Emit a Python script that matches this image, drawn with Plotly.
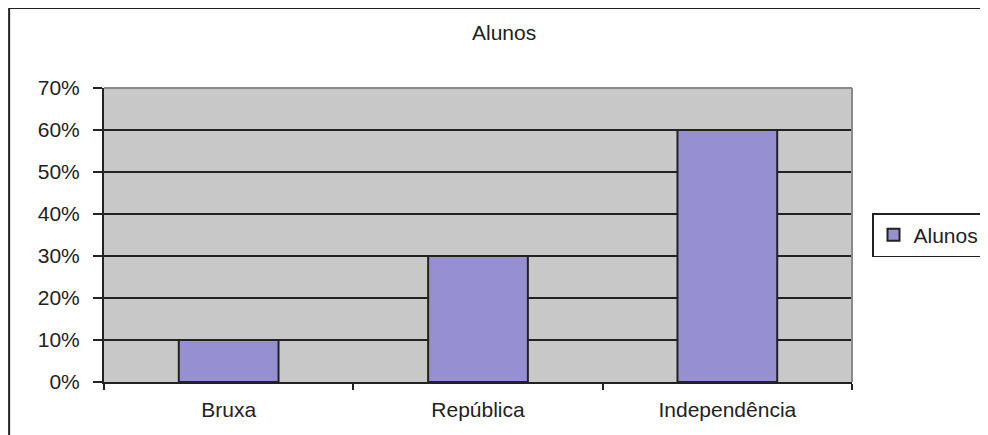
import plotly.graph_objects as go

categories = ["Bruxa", "República", "Independência"]
values = [0.10, 0.30, 0.60]
series_name = "Alunos"
chart_title = "Alunos"
y_ticks = [0, 0.1, 0.2, 0.3, 0.4, 0.5, 0.6, 0.7]
y_labels = ["0%", "10%", "20%", "30%", "40%", "50%", "60%", "70%"]

W, H = 988, 435
OFF = 8  # page body margin
L, R, T, B = 104 - OFF, 853 - OFF, 88 - OFF, 382 - OFF
pw, ph = R - L, B - T

fig = go.Figure()
fig.add_trace(go.Bar(
    x=categories, y=values, name=series_name,
    marker=dict(color="#968fd0", line=dict(color="#222222", width=2)),
    showlegend=True,
))

font = "Liberation Sans, Arial, sans-serif"
FS = 21

fig.update_layout(
    width=W, height=H,
    margin=dict(l=L, r=W - R, t=T, b=H - B),
    paper_bgcolor="white",
    plot_bgcolor="#c8c8c8",
    bargap=0.6,
    font=dict(family=font, size=FS, color="#222222"),
    showlegend=True,
    legend=dict(
        x=(872 - OFF - L) / pw, xanchor="left",
        y=(B - (235 - OFF)) / ph, yanchor="middle",
        bgcolor="white", bordercolor="#222222", borderwidth=1.5,
        font=dict(size=FS, color="#222222"),
        itemwidth=30,
        tracegroupgap=0,
    ),
    xaxis=dict(
        type="category",
        tickson="boundaries",
        ticks="outside", ticklen=6, tickcolor="#222222", tickwidth=2,
        showline=True, linecolor="#222222", linewidth=2,
        showgrid=False,
        ticklabelstandoff=8,
        tickfont=dict(size=FS, color="#222222"),
    ),
    yaxis=dict(
        range=[0, 0.7],
        tickvals=y_ticks, ticktext=y_labels,
        ticks="outside", ticklen=9, tickcolor="#222222", tickwidth=2,
        showline=True, linecolor="#222222", linewidth=2,
        showgrid=True, gridcolor="#222222", gridwidth=2,
        zeroline=False,
        ticklabelstandoff=9,
        tickfont=dict(size=FS, color="#222222"),
    ),
    annotations=[dict(
        text=chart_title, xref="paper", yref="paper",
        x=(505 - OFF - L) / pw, y=(B - (33 - OFF)) / ph,
        xanchor="center", yanchor="middle", showarrow=False,
        font=dict(size=FS, color="#222222"),
    )],
    shapes=[
        dict(type="line", xref="paper", yref="paper", x0=0, x1=1, y0=1, y1=1,
             line=dict(color="#8a8a8a", width=2), layer="above"),
        dict(type="line", xref="paper", yref="paper", x0=1, x1=1, y0=0, y1=1,
             line=dict(color="#8a8a8a", width=2), layer="above"),
        dict(type="rect", xref="paper", yref="paper",
             x0=(9 - OFF - L) / pw, x1=(1100 - L) / pw,
             y0=(B - 500) / ph, y1=(B - (8 - OFF)) / ph,
             line=dict(color="#222222", width=2), fillcolor="rgba(0,0,0,0)", layer="above"),
    ],
)

fig.write_html("out.html")
